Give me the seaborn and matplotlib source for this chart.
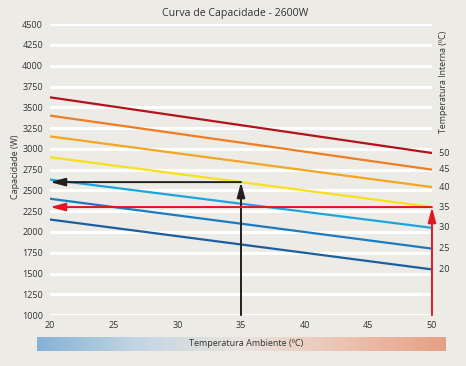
import matplotlib
matplotlib.use("Agg")
import matplotlib.pyplot as plt
import seaborn as sns
import pandas as pd
import numpy as np
from matplotlib.colors import LinearSegmentedColormap

# Data
amb_temps = [20, 50]
internal_temps = [50, 45, 40, 35, 30, 25, 20]
cap_at_20 = [3620, 3400, 3150, 2900, 2630, 2400, 2150]
cap_at_50 = [2950, 2750, 2540, 2300, 2050, 1800, 1550]
line_colors = ["#B3121C", "#EF7D22", "#F4A521", "#F6E11A", "#1BA5DE", "#1A7BC0", "#1B5F9F"]

# Example reading paths
black_path_x = [35, 35, 20]
black_path_y = [1000, 2600, 2600]
red_path_x = [50, 50, 20]
red_path_y = [1000, 2300, 2300]

yticks = list(range(1000, 4501, 250))
xticks = [20, 25, 30, 35, 40, 45, 50]

rows = []
for t, a, b in zip(internal_temps, cap_at_20, cap_at_50):
    rows.append({"amb": amb_temps[0], "cap": a, "tin": str(t)})
    rows.append({"amb": amb_temps[1], "cap": b, "tin": str(t)})
df = pd.DataFrame(rows)

sns.set_theme(style="white")
plt.rcParams['font.family'] = ['Open Sans', 'DejaVu Sans']
bg = "#ECEBE6"
tc = "#333333"

fig = plt.figure(figsize=(4.66, 3.66), dpi=100)
fig.patch.set_facecolor(bg)
ax = fig.add_axes([0.1073, 0.139, 0.8197, 0.795])
ax.set_facecolor(bg)

for y in yticks:
    ax.axhline(y, color="white", lw=2.2, zorder=0)

palette = {str(t): c for t, c in zip(internal_temps, line_colors)}
sns.lineplot(data=df, x="amb", y="cap", hue="tin", palette=palette,
             hue_order=[str(t) for t in internal_temps], lw=1.6, legend=False, ax=ax, zorder=3)

# arrows
def path_arrows(xs, ys, color):
    style = "-|>,head_length=0.75,head_width=0.2"
    ax.annotate("", xy=(xs[1], ys[1]), xytext=(xs[0], ys[0]),
                arrowprops=dict(arrowstyle=style, color=color, lw=1.4, shrinkA=0, shrinkB=0), zorder=5)
    ax.annotate("", xy=(xs[2], ys[2]), xytext=(xs[1], ys[1]),
                arrowprops=dict(arrowstyle=style, color=color, lw=1.4, shrinkA=0, shrinkB=0), zorder=5)

path_arrows(black_path_x, black_path_y, "#231F20")
path_arrows(red_path_x, red_path_y, "#E3161F")

ax.set_xlim(20, 50)
ax.set_ylim(1000, 4500)
ax.set_xticks(xticks)
ax.set_yticks(yticks)
ax.tick_params(axis="both", length=0, labelsize=6.5, colors=tc, pad=4)
ax.tick_params(axis="y", pad=5)
for s in ax.spines.values():
    s.set_visible(False)
ax.set_xlabel("")
ax.set_ylabel("")

# right labels
for t, v in zip(internal_temps, cap_at_50):
    ax.text(50, v, f"   {t}", ha="left", va="center", fontsize=6.5, color=tc,
            transform=ax.transData, clip_on=False)

fig.text(0.951, 0.775, "Temperatura Interna (ºC)", rotation=90, ha="center", va="center",
         fontsize=6.3, color=tc)
fig.text(0.034, 0.545, "Capacidade (W)", rotation=90, ha="center", va="center",
         fontsize=6.5, color=tc)
fig.text(0.505, 0.963, "Curva de Capacidade - 2600W", ha="center", va="center",
         fontsize=7.6, color=tc)

# gradient bar
gax = fig.add_axes([0.0788, 0.041, 0.876, 0.039])
cmap = LinearSegmentedColormap.from_list("amb", ["#86B2D5", "#C4D6E2", "#EAE4DE", "#EBC3B0", "#E79F85"])
gax.imshow(np.linspace(0, 1, 256).reshape(1, -1), aspect="auto", cmap=cmap, extent=[0, 1, 0, 1])
gax.set_axis_off()
gax.text(0.513, 0.5, "Temperatura Ambiente (ºC)", ha="center", va="center", fontsize=6.5,
         color=tc, transform=gax.transAxes)

fig.savefig("out.png", dpi=100, facecolor=bg)
